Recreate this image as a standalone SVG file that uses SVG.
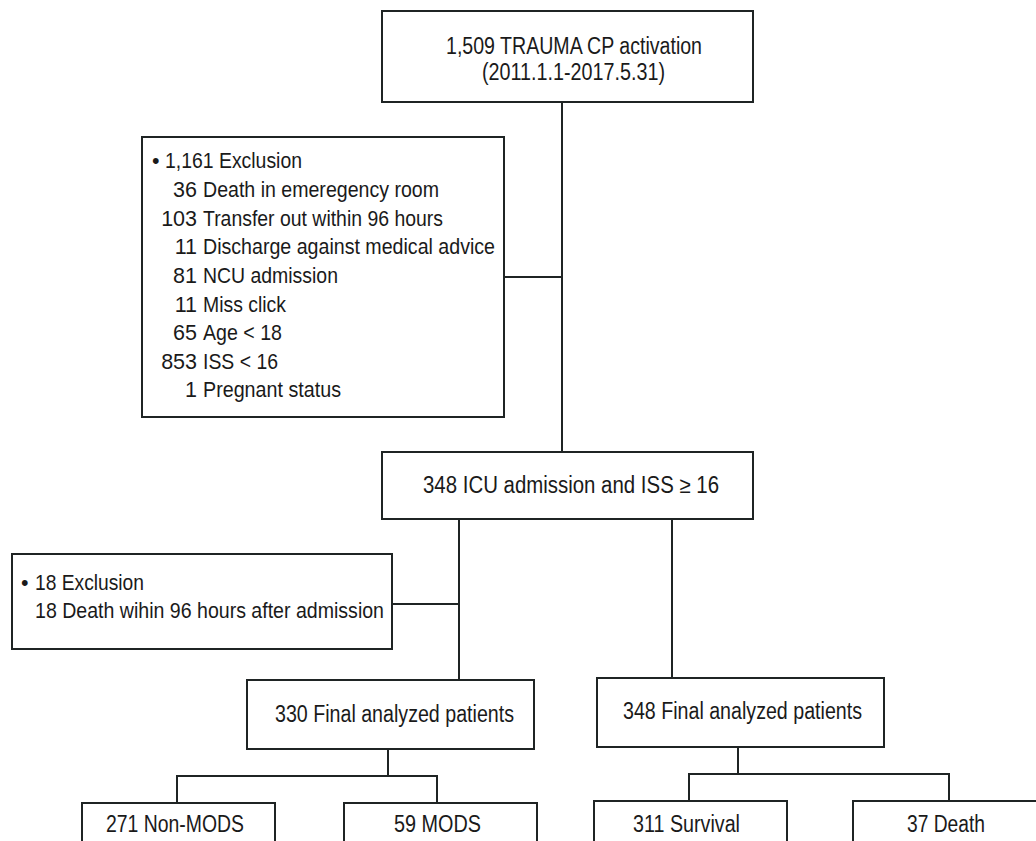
<svg xmlns="http://www.w3.org/2000/svg" width="1036" height="841" viewBox="0 0 1036 841">
<style>
.box{fill:#ffffff;stroke:#1f2424;stroke-width:2}
.ln{fill:none;stroke:#1f2424;stroke-width:2}
text{font-family:"Liberation Sans",Arial,sans-serif;font-size:23px;fill:#1a1a1a}
.s{font-size:21.5px}
</style>
<rect width="1036" height="841" fill="#ffffff"/>
<g id="connectors">
<path class="ln" d="M562 102V452"/>
<path class="ln" d="M504 277H562"/>
<path class="ln" d="M459 519V680"/>
<path class="ln" d="M392 604H459"/>
<path class="ln" d="M672 519V678"/>
<path class="ln" d="M388 749V776M177 803V776H437V803"/>
<path class="ln" d="M738 747V774M689 801V774H949V801"/>
</g>
<g id="n-top">
<rect class="box" x="382" y="11" width="371" height="91"/>
<text x="446" y="54" textLength="256" lengthAdjust="spacingAndGlyphs">1,509 TRAUMA CP activation</text>
<text x="482" y="80" textLength="183" lengthAdjust="spacingAndGlyphs">(2011.1.1-2017.5.31)</text>
</g>
<g id="n-excl1">
<rect class="box" x="142" y="137" width="362" height="280"/>
<text class="s" x="152" y="168">•</text>
<text class="s" x="165" y="168" textLength="137" lengthAdjust="spacingAndGlyphs">1,161 Exclusion</text>
<g class="s" text-anchor="end">
<text class="s" x="197" y="197">36</text>
<text class="s" x="197" y="226">103</text>
<text class="s" x="197" y="254">11</text>
<text class="s" x="197" y="283">81</text>
<text class="s" x="197" y="312">11</text>
<text class="s" x="197" y="340">65</text>
<text class="s" x="197" y="369">853</text>
<text class="s" x="197" y="397">1</text>
</g>
<text class="s" x="203" y="197" textLength="236" lengthAdjust="spacingAndGlyphs">Death in emeregency room</text>
<text class="s" x="203" y="226" textLength="240" lengthAdjust="spacingAndGlyphs">Transfer out within 96 hours</text>
<text class="s" x="203" y="254" textLength="292" lengthAdjust="spacingAndGlyphs">Discharge against medical advice</text>
<text class="s" x="203" y="283" textLength="135" lengthAdjust="spacingAndGlyphs">NCU admission</text>
<text class="s" x="203" y="312" textLength="83" lengthAdjust="spacingAndGlyphs">Miss click</text>
<text class="s" x="203" y="340" textLength="79" lengthAdjust="spacingAndGlyphs">Age &lt; 18</text>
<text class="s" x="203" y="369" textLength="75" lengthAdjust="spacingAndGlyphs">ISS &lt; 16</text>
<text class="s" x="203" y="397" textLength="138" lengthAdjust="spacingAndGlyphs">Pregnant status</text>
</g>
<g id="n-icu">
<rect class="box" x="382" y="452" width="371" height="67"/>
<text x="423" y="493" textLength="296" lengthAdjust="spacingAndGlyphs">348 ICU admission and ISS ≥ 16</text>
</g>
<g id="n-excl2">
<rect class="box" x="12" y="554" width="380" height="95"/>
<text class="s" x="21" y="590">•</text>
<text class="s" x="35" y="590" textLength="109" lengthAdjust="spacingAndGlyphs">18 Exclusion</text>
<text class="s" x="35" y="618" textLength="349" lengthAdjust="spacingAndGlyphs">18 Death wihin 96 hours after admission</text>
</g>
<g id="n-330">
<rect class="box" x="247" y="680" width="287" height="69"/>
<text x="275" y="722" textLength="239" lengthAdjust="spacingAndGlyphs">330 Final analyzed patients</text>
</g>
<g id="n-348">
<rect class="box" x="597" y="678" width="287" height="69"/>
<text x="623" y="719" textLength="239" lengthAdjust="spacingAndGlyphs">348 Final analyzed patients</text>
</g>
<g id="n-nonmods">
<rect class="box" x="82" y="803" width="193" height="60"/>
<text x="106" y="832" textLength="138" lengthAdjust="spacingAndGlyphs">271 Non-MODS</text>
</g>
<g id="n-mods">
<rect class="box" x="344" y="803" width="193" height="60"/>
<text x="394" y="832" textLength="87" lengthAdjust="spacingAndGlyphs">59 MODS</text>
</g>
<g id="n-survival">
<rect class="box" x="594" y="801" width="193" height="60"/>
<text x="633" y="832" textLength="107" lengthAdjust="spacingAndGlyphs">311 Survival</text>
</g>
<g id="n-death">
<rect class="box" x="853" y="801" width="190" height="60"/>
<text x="907" y="832" textLength="78" lengthAdjust="spacingAndGlyphs">37 Death</text>
</g>
</svg>
